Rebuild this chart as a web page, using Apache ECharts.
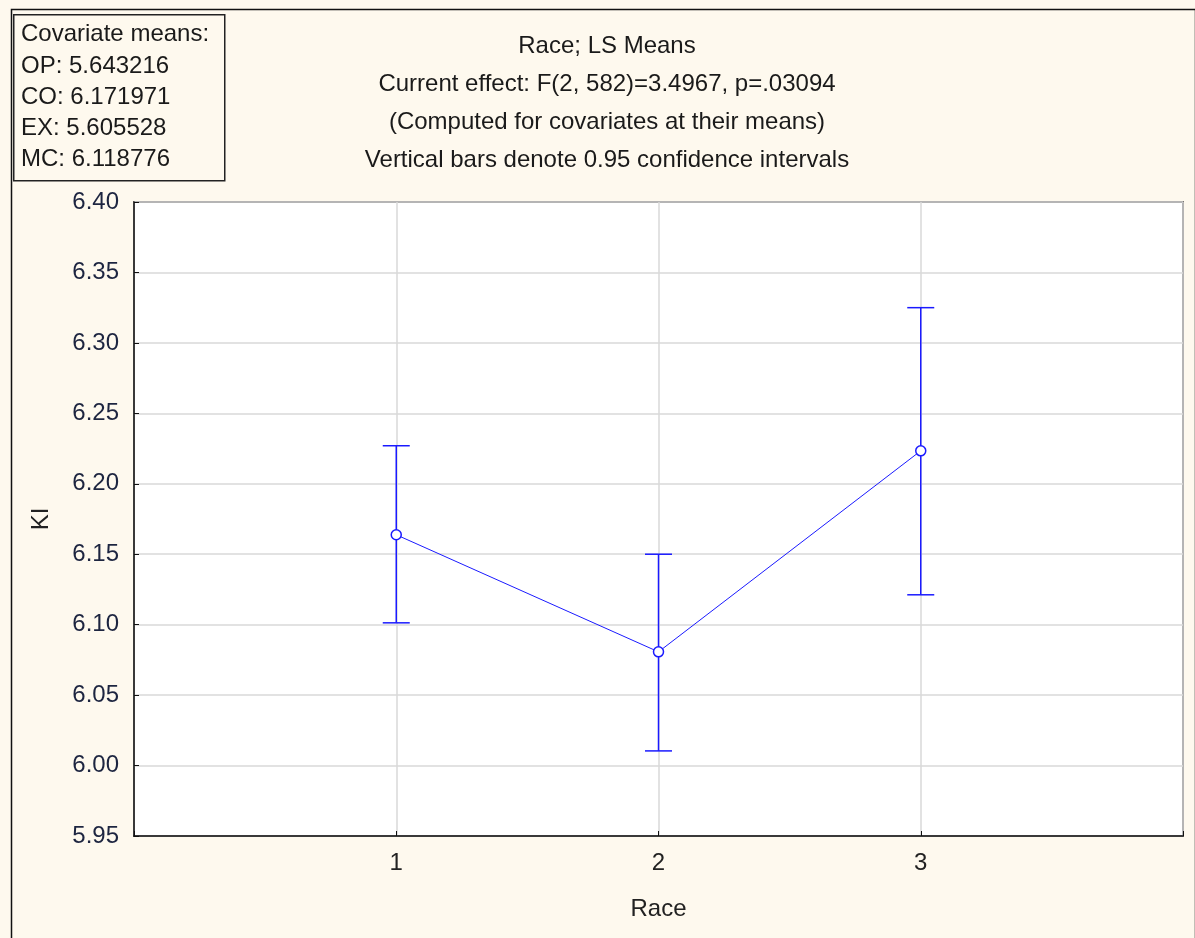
<!DOCTYPE html>
<html>
<head>
<meta charset="utf-8">
<script src="https://cdn.jsdelivr.net/npm/echarts@6/dist/echarts.min.js"></script>
<style>
html,body{margin:0;padding:0;background:#fef9ee;}
#c{width:1195px;height:938px;}
</style>
</head>
<body>
<div id="c"></div>
<script>
const categories = [1, 2, 3];
const means = [6.1638, 6.0807, 6.2234];
const lower = [6.1013, 6.0104, 6.1212];
const upper = [6.2270, 6.1500, 6.3250];
const titleLines = [
  'Race; LS Means',
  'Current effect: F(2, 582)=3.4967, p=.03094',
  '(Computed for covariates at their means)',
  'Vertical bars denote 0.95 confidence intervals'
];
const covLines = [
  'Covariate means:',
  'OP: 5.643216',
  'CO: 6.171971',
  'EX: 5.605528',
  'MC: 6.118776'
];

const FONT = '"Liberation Sans", Arial, sans-serif';
const FS = 24;
const BLUE = '#1a1aff';
const chart = echarts.init(document.getElementById('c'));

const meanData = categories.map((c, i) => [c, means[i]]);
const ciData = categories.map((c, i) => [c, lower[i], upper[i]]);

chart.setOption({
  backgroundColor: '#fef9ee',
  animation: false,
  grid: {left: 134, right: 12, top: 202, bottom: 102, show: true, backgroundColor: '#ffffff', borderColor: '#111', borderWidth: 1.5},
  xAxis: {
    type: 'value', min: 0, max: 4, interval: 1,
    name: 'Race', nameLocation: 'middle', nameGap: 61,
    nameTextStyle: {fontFamily: FONT, fontSize: FS, color: '#222'},
    axisLine: {show: true, onZero: false, lineStyle: {color: '#111', width: 1.5}},
    axisTick: {show: true, inside: true, length: 5, lineStyle: {color: '#111'}},
    axisLabel: {fontFamily: FONT, fontSize: FS, color: '#222', margin: 15,
      formatter: v => (v >= 1 && v <= 3) ? String(v) : ''},
    splitLine: {show: true, lineStyle: {color: '#d8d8d8', width: 1.5}}
  },
  yAxis: {
    type: 'value', min: 5.95, max: 6.40, interval: 0.05,
    name: 'KI', nameLocation: 'middle', nameGap: 81, nameRotate: 90,
    nameTextStyle: {fontFamily: FONT, fontSize: FS, color: '#222'},
    axisLine: {show: true, lineStyle: {color: '#111', width: 1.5}},
    axisTick: {show: true, inside: true, length: 5, lineStyle: {color: '#111'}},
    axisLabel: {fontFamily: FONT, fontSize: FS, color: '#1d2540', margin: 15,
      formatter: v => v.toFixed(2)},
    splitLine: {show: true, lineStyle: {color: '#d8d8d8', width: 1.5}}
  },
  graphic: [
    {type: 'rect', left: 9, top: 7, shape: {width: 1184, height: 940},
      style: {fill: 'none', stroke: '#111', lineWidth: 1.5}, silent: true},
    {type: 'rect', left: 13, top: 14, shape: {width: 211, height: 166},
      style: {fill: '#fef9ee', stroke: '#222', lineWidth: 1.5}, z: 10},
    {type: 'text', x: 21, y: 19, z: 11,
      style: {text: covLines.join('\n'), fontFamily: FONT, fontSize: FS, lineHeight: 31.3, fill: '#1a1a1a'}},
    {type: 'text', x: 607, y: 27, z: 11,
      style: {text: titleLines.join('\n'), fontFamily: FONT, fontSize: FS, lineHeight: 38, fill: '#1a1a1a', align: 'center'}}
  ],
  series: [
    {
      type: 'line', data: meanData, symbol: 'circle', symbolSize: 10,
      lineStyle: {color: BLUE, width: 1},
      itemStyle: {color: '#ffffff', borderColor: BLUE, borderWidth: 1.5},
      z: 5
    },
    {
      type: 'custom', data: ciData, z: 4,
      renderItem: function (params, api) {
        const x = api.value(0);
        const lo = api.coord([x, api.value(1)]);
        const hi = api.coord([x, api.value(2)]);
        const hw = 13.5;
        const st = {stroke: BLUE, lineWidth: 1.5, fill: 'none'};
        return {type: 'group', children: [
          {type: 'line', shape: {x1: lo[0], y1: lo[1], x2: hi[0], y2: hi[1]}, style: st},
          {type: 'line', shape: {x1: lo[0] - hw, y1: lo[1], x2: lo[0] + hw, y2: lo[1]}, style: st},
          {type: 'line', shape: {x1: hi[0] - hw, y1: hi[1], x2: hi[0] + hw, y2: hi[1]}, style: st}
        ]};
      }
    }
  ]
});
</script>
</body>
</html>
